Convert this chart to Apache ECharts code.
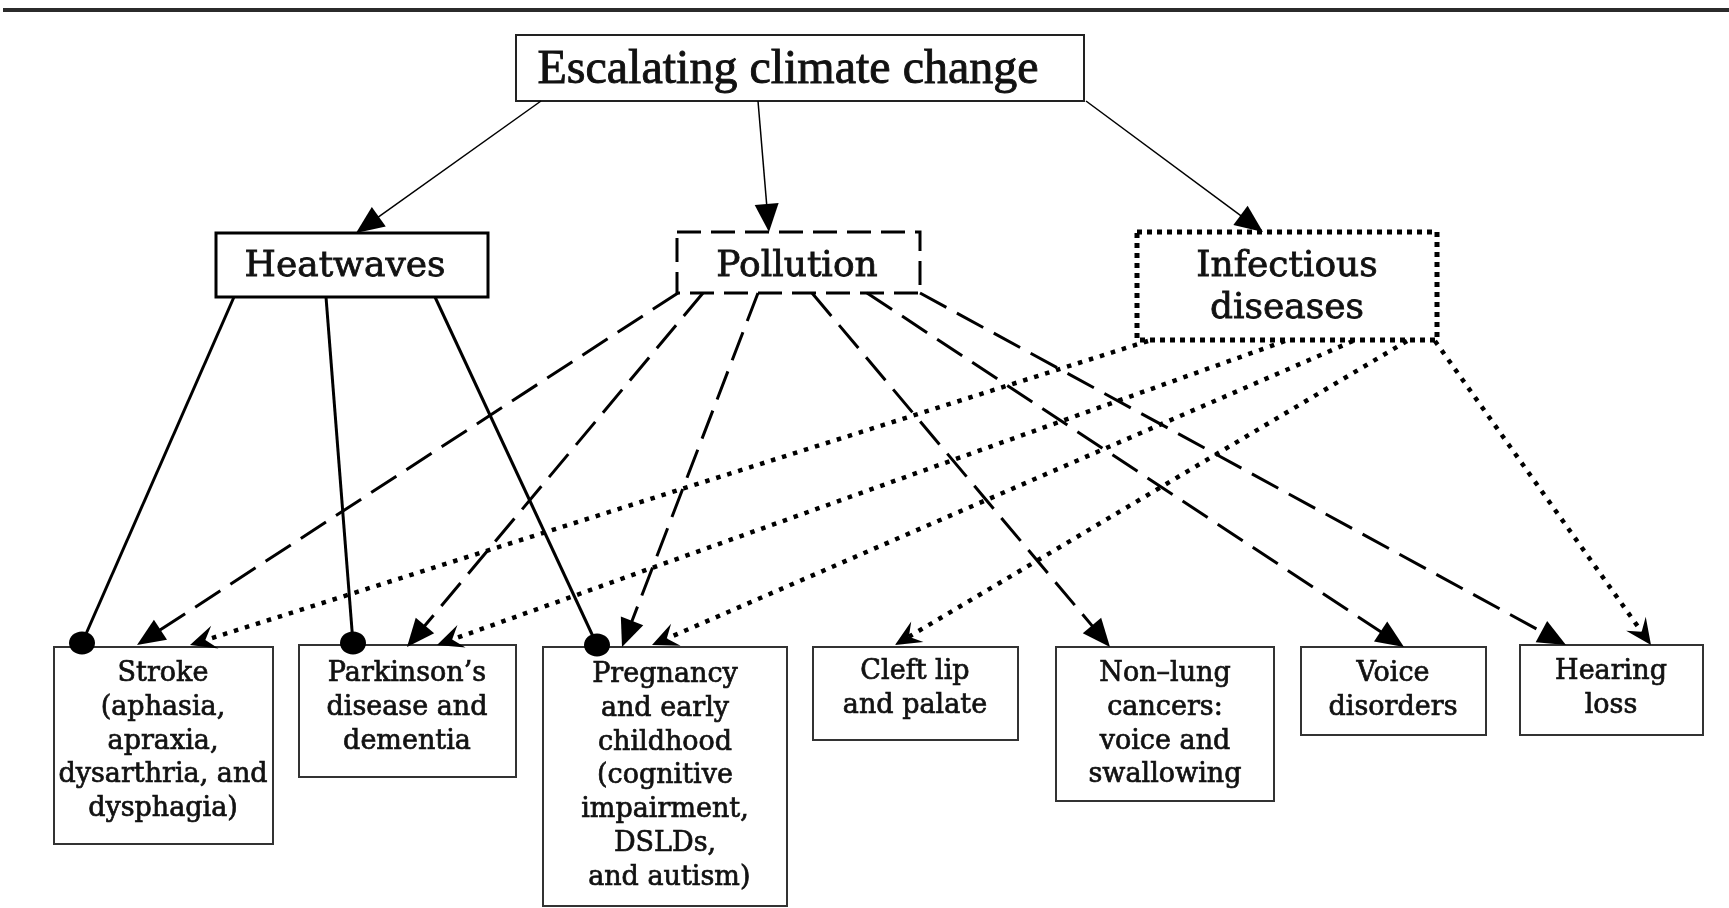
<!DOCTYPE html>
<html>
<head>
<meta charset="utf-8">
<script src="https://cdn.jsdelivr.net/npm/echarts@6/dist/echarts.min.js"></script>
<style>
html, body { margin: 0; padding: 0; background: #fff; }
#main { width: 1729px; height: 908px; }
</style>
</head>
<body>
<div id="main"></div>
<script>
// ---- data: nodes and relations ----
var nodeLabels = [
  'Escalating climate change',
  'Heatwaves',
  'Pollution',
  'Infectious\ndiseases',
  'Stroke\n(aphasia,\napraxia,\ndysarthria, and\ndysphagia)',
  'Parkinson\u2019s\ndisease and\ndementia',
  'Pregnancy\nand early\nchildhood\n(cognitive\nimpairment,\nDSLDs,\n and autism)',
  'Cleft lip\nand palate',
  'Non\u2013lung\ncancers:\nvoice and\nswallowing',
  'Voice\ndisorders',
  'Hearing\nloss'
];
var climateLinks = [1, 2, 3];
var heatwaveLinks = [4, 5, 6];
var pollutionLinks = [4, 5, 6, 8, 9, 10];
var infectionLinks = [4, 5, 6, 7, 10];

// ---- layout (page pixels) ----
var W = 1729, H = 908;
// x, y, w, h
var boxes = [
  [516, 35, 568, 66],
  [216, 233, 272, 64],
  [677, 232, 243, 61],
  [1137, 232, 300, 108],
  [54, 647, 219, 197],
  [299, 645, 217, 132],
  [543, 647, 244, 259],
  [813, 647, 205, 93],
  [1056, 647, 218, 154],
  [1301, 647, 185, 88],
  [1520, 645, 183, 90]
];
// text centre x, first line centre y, font size, line height, family, thickening
var texts = [
  [788, 70, 48, 50, 'Liberation Serif', 0.9],
  [345, 267, 36, 42, 'DejaVu Serif', 0.8],
  [797, 267, 36, 42, 'DejaVu Serif', 0.8],
  [1287, 267, 36, 42, 'DejaVu Serif', 0.8],
  [163, 674, 27, 33.8, 'DejaVu Serif', 0.7],
  [407, 674, 27, 33.8, 'DejaVu Serif', 0.7],
  [665, 675, 27, 33.8, 'DejaVu Serif', 0.7],
  [915, 672, 27, 33.8, 'DejaVu Serif', 0.7],
  [1165, 674, 27, 33.8, 'DejaVu Serif', 0.7],
  [1393, 674, 27, 33.8, 'DejaVu Serif', 0.7],
  [1611, 672, 27, 33.8, 'DejaVu Serif', 0.7]
];
var boxStyles = [
  { stroke: '#222', width: 2, dash: null },
  { stroke: '#000', width: 3, dash: null },
  { stroke: '#000', width: 3, dash: [24, 10] },
  { stroke: '#000', width: 5, dash: [5, 5] }
];
var leafStyle = { stroke: '#333', width: 2, dash: null };

// edge groups: source node, start x on source bottom, end points on targets
var groups = [
  { src: 0, links: climateLinks, startY: 101, startX: [541, 758, 1086],
    ends: [[356, 233], [769, 232], [1263, 232]],
    width: 1.5, dash: null, head: 'tri' },
  { src: 1, links: heatwaveLinks, startY: 297, startX: [234, 326, 435],
    ends: [[82, 643], [353, 643], [597, 645]],
    width: 3, dash: null, head: 'dot' },
  { src: 2, links: pollutionLinks, startY: 293, startX: [678, 703, 758, 812, 867, 920],
    ends: [[137, 645], [407, 647], [622, 647], [1110, 647], [1404, 647], [1566, 645]],
    width: 3, dash: [30, 12], head: 'tri' },
  { src: 3, links: infectionLinks, startY: 341, startX: [1148, 1285, 1353, 1407, 1435],
    ends: [[190, 645], [437, 645], [652, 645], [895, 645], [1651, 645]],
    width: 4.5, dash: [4.5, 7], head: 'notch' }
];

var edgeData = [];
groups.forEach(function (g, gi) {
  g.links.forEach(function (t, k) { edgeData.push([gi, k]); });
});

function renderBox(params, api) {
  var i = params.dataIndex;
  var b = boxes[i];
  var p0 = api.coord([b[0], b[1]]);
  var p1 = api.coord([b[0] + b[2], b[1] + b[3]]);
  var st = i < 4 ? boxStyles[i] : leafStyle;
  var t = texts[i];
  var tp = api.coord([t[0], t[1]]);
  return {
    type: 'group',
    children: [
      { type: 'rect',
        shape: { x: p0[0], y: p0[1], width: p1[0] - p0[0], height: p1[1] - p0[1] },
        style: { fill: '#fff', stroke: st.stroke, lineWidth: st.width, lineDash: st.dash } },
      { type: 'text',
        style: { text: nodeLabels[i], x: tp[0], y: tp[1] - t[3] / 2,
          align: 'center', verticalAlign: 'top', lineHeight: t[3],
          font: t[2] + 'px "' + t[4] + '"', fill: '#111',
          stroke: '#111', lineWidth: t[5] } }
    ]
  };
}

function renderEdge(params, api) {
  var g = groups[api.value(0)];
  var k = api.value(1);
  var a = api.coord([g.startX[k], g.startY]);
  var b = api.coord(g.ends[k]);
  var dx = b[0] - a[0], dy = b[1] - a[1];
  var len = Math.sqrt(dx * dx + dy * dy);
  var ux = dx / len, uy = dy / len, nx = -uy, ny = ux;
  var children = [];
  var lineEnd = b;
  if (g.head === 'tri') {
    var L = 28, hw = 12;
    var bx = b[0] - ux * L, by = b[1] - uy * L;
    lineEnd = [bx + ux * 2, by + uy * 2];
    children.push({ type: 'polygon', z2: 2,
      shape: { points: [b, [bx + nx * hw, by + ny * hw], [bx - nx * hw, by - ny * hw]] },
      style: { fill: '#000' } });
  } else if (g.head === 'notch') {
    var L2 = 26, hw2 = 12;
    var cx = b[0] - ux * L2, cy = b[1] - uy * L2;
    var mx = b[0] - ux * L2 * 0.62, my = b[1] - uy * L2 * 0.62;
    lineEnd = [mx, my];
    children.push({ type: 'polygon', z2: 2,
      shape: { points: [b, [cx + nx * hw2, cy + ny * hw2], [mx, my], [cx - nx * hw2, cy - ny * hw2]] },
      style: { fill: '#000' } });
  } else {
    children.push({ type: 'ellipse', z2: 2,
      shape: { cx: b[0], cy: b[1], rx: 13, ry: 11.5 },
      style: { fill: '#000' } });
  }
  children.unshift({ type: 'line',
    shape: { x1: a[0], y1: a[1], x2: lineEnd[0], y2: lineEnd[1] },
    style: { stroke: '#000', lineWidth: g.width, lineDash: g.dash, lineCap: 'butt' } });
  return { type: 'group', children: children };
}

var chart = echarts.init(document.getElementById('main'));
chart.setOption({
  animation: false,
  backgroundColor: '#fff',
  grid: { left: 0, right: 0, top: 0, bottom: 0 },
  xAxis: { type: 'value', min: 0, max: W, show: false },
  yAxis: { type: 'value', min: 0, max: H, inverse: true, show: false },
  graphic: [{
    type: 'line', shape: { x1: 3, y1: 10, x2: W, y2: 10 },
    style: { stroke: '#2b2b2b', lineWidth: 4 }
  }],
  series: [
    { type: 'custom', name: 'boxes', renderItem: renderBox, z: 2,
      encode: { x: 0, y: 1 },
      data: nodeLabels.map(function (l, i) { return [i, 0]; }) },
    { type: 'custom', name: 'links', renderItem: renderEdge, z: 3,
      encode: { x: 0, y: 1 },
      data: edgeData }
  ]
});
</script>
</body>
</html>
